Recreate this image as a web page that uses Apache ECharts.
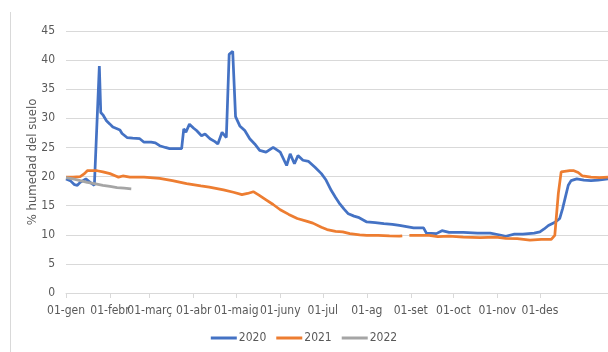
<!DOCTYPE html>
<html>
<head>
<meta charset="utf-8">
<script src="https://cdn.jsdelivr.net/npm/echarts@6/dist/echarts.min.js"></script>
<style>
  html, body { margin: 0; padding: 0; background: #fff; }
  #chart { width: 608px; height: 352px; }
</style>
</head>
<body>
<div id="chart"></div>
<script>
// month starts (day of year) and their labels
const monthDays = [0, 31, 59, 90, 120, 151, 181, 212, 243, 273, 304, 334]
const monthLabels = ['01-gen', '01-febr', '01-març', '01-abr', '01-maig', '01-juny',
  '01-jul', '01-ag', '01-set', '01-oct', '01-nov', '01-des']

const yTicks = [0, 5, 10, 15, 20, 25, 30, 35, 40, 45]

// [day of year, % humitat]
const s2020 = [
  [0, 19.6], [3, 19.3], [6, 18.6], [8, 18.5], [10, 19.0], [14, 19.6], [17, 19.0], [20, 18.5],
  [21, 18.6], [23.5, 39.0], [24.5, 31.0], [26, 30.6], [28.5, 29.6], [31, 29.0], [33, 28.5],
  [36, 28.2], [38, 28.0], [39.5, 27.4], [43, 26.7], [47, 26.6], [52, 26.5], [55, 25.9],
  [60, 25.9], [63, 25.8], [66, 25.3], [70, 25.0], [73, 24.8], [81.5, 24.8], [83, 28.2],
  [84.5, 27.6], [87, 29.0], [90, 28.3], [92, 27.9], [95.5, 27.0], [98, 27.3], [101.5, 26.5],
  [105, 26.0], [107, 25.6], [110, 27.6], [113, 26.7], [115, 41.0], [117.5, 41.5], [119.5, 30.3],
  [122.5, 28.7], [126, 27.9], [129.5, 26.5], [133, 25.6], [136.5, 24.5], [141, 24.2], [146, 25.0],
  [151, 24.2], [155.5, 21.9], [158, 23.9], [161, 22.2], [163.5, 23.6], [167, 22.8], [171, 22.6],
  [175.5, 21.6], [180, 20.5], [183, 19.5], [187, 17.6], [190, 16.4], [193, 15.3], [196, 14.4],
  [199, 13.6], [203, 13.2], [206, 13.0], [212, 12.2], [218, 12.1], [224, 11.9], [230, 11.8],
  [235, 11.6], [240, 11.4], [245, 11.2], [252, 11.2], [254, 10.3], [261, 10.2], [265, 10.7],
  [270, 10.4], [280, 10.4], [290, 10.3], [299, 10.3], [305, 10.0], [310, 9.75], [316, 10.1],
  [322, 10.1], [330, 10.3], [334, 10.5], [337, 11.0], [340, 11.6], [345, 12.2], [348, 12.8],
  [350, 14.5], [352, 16.5], [354, 18.5], [356, 19.3], [360, 19.6], [365, 19.4], [370, 19.3],
  [375, 19.4], [382, 19.6],
]

const s2021 = [
  [0, 19.9], [5, 19.9], [10, 20.0], [13, 20.5], [15, 21.0], [18, 21.0], [22, 21.0], [26, 20.8],
  [31, 20.5], [35, 20.1], [37, 19.9], [40, 20.1], [45, 19.9], [55, 19.9], [66, 19.7], [75, 19.3],
  [85, 18.8], [95, 18.4], [101, 18.2], [111, 17.7], [118, 17.3], [124, 16.9], [128, 17.1],
  [132, 17.4], [136, 16.8], [141, 16.0], [146, 15.2], [151, 14.3], [157, 13.5], [163, 12.8],
  [170, 12.3], [174, 12.0], [180, 11.3], [184, 10.9], [190, 10.6], [195, 10.5], [200, 10.2],
  [207, 10.0], [212, 9.9], [220, 9.9], [228, 9.8], [235, 9.75], [237, 9.8], [239, null],
  [242, 9.9], [250, 9.9], [256, 9.9], [262, 9.7], [270, 9.75], [280, 9.6], [292, 9.5],
  [303, 9.6], [310, 9.4], [318, 9.35], [327, 9.1], [335, 9.2], [342, 9.2], [344.5, 9.9],
  [347, 17.1], [349, 20.8], [355, 21.0], [358, 21.0], [361, 20.7], [364, 20.1], [370, 19.9],
  [376, 19.8], [382, 19.9],
]

const s2022 = [
  [0, 19.8], [5, 19.6], [10, 19.3], [15, 19.0], [20, 18.8], [26, 18.5], [31, 18.3],
  [36, 18.1], [41, 18.0], [46, 17.9],
]

const font = "'Liberation Sans Narrow', 'DejaVu Sans Condensed', sans-serif"
const textColor = '#595959'
const lineGrey = '#d9d9d9'

const chart = echarts.init(document.getElementById('chart'))

function serie(name, data, color) {
  return {
    name,
    type: 'line',
    data,
    showSymbol: false,
    connectNulls: false,
    lineStyle: { color, width: 2.75 },
    itemStyle: { color },
  }
}

chart.setOption({
  animation: false,
  textStyle: { fontFamily: font },
  graphic: [
    // left border of the chart area
    {
      type: 'line',
      shape: { x1: 10.5, y1: 12, x2: 10.5, y2: 352 },
      style: { stroke: lineGrey, lineWidth: 1 },
    },
  ],
  grid: { left: 66, right: 0, top: 31, bottom: 59 },
  legend: {
    bottom: 3,
    left: 'center',
    icon: 'rect',
    itemWidth: 26,
    itemHeight: 3,
    itemGap: 10,
    textStyle: { color: textColor, fontSize: 12, fontFamily: font, padding: [0, 0, 0, -3] },
    data: ['2020', '2021', '2022'],
  },
  xAxis: {
    type: 'value',
    min: 0,
    max: 382,
    splitLine: { show: false },
    axisLine: { lineStyle: { color: lineGrey } },
    axisTick: { customValues: monthDays, length: 5, lineStyle: { color: lineGrey } },
    axisLabel: {
      customValues: monthDays,
      color: textColor,
      fontSize: 12,
      fontFamily: font,
      margin: 12,
      formatter: (v) => monthLabels[monthDays.indexOf(v)],
    },
  },
  yAxis: {
    type: 'value',
    min: yTicks[0],
    max: yTicks[yTicks.length - 1],
    interval: 5,
    name: '% humedad del suelo',
    nameLocation: 'middle',
    nameGap: 27,
    nameMoveOverlap: false,
    nameTextStyle: { color: textColor, fontSize: 13, fontFamily: font },
    axisLine: { show: false },
    axisTick: { show: false },
    axisLabel: { color: textColor, fontSize: 12, fontFamily: font, margin: 11 },
    splitLine: { lineStyle: { color: lineGrey } },
  },
  series: [
    serie('2020', s2020, '#4472c4'),
    serie('2021', s2021, '#ed7d31'),
    serie('2022', s2022, '#a5a5a5'),
  ],
})
</script>
</body>
</html>
